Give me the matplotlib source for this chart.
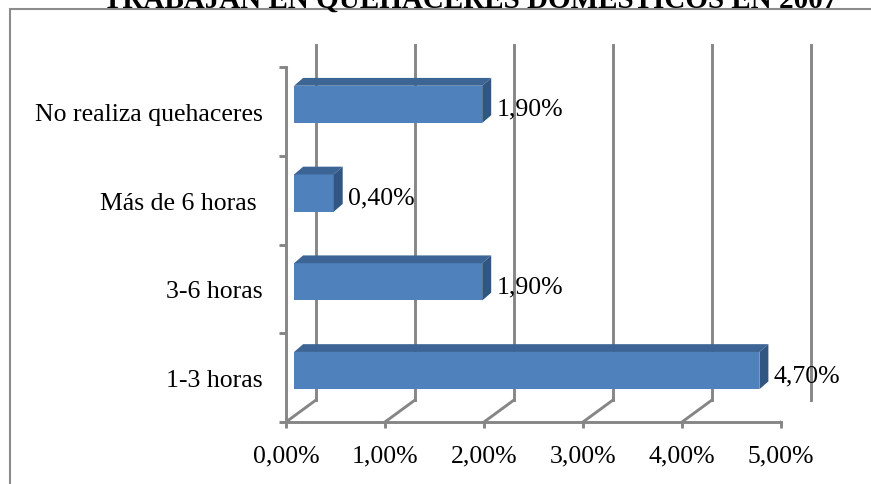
import numpy as np
import matplotlib
matplotlib.use('Agg')
import matplotlib.pyplot as plt
from matplotlib.patches import Polygon, Rectangle
from matplotlib.transforms import IdentityTransform, ScaledTranslation

plt.rcParams.update({'font.family': 'Liberation Serif', 'font.size': 18.5})

# data (bottom to top)
categories = ['1-3 horas', '3-6 horas', 'Más de 6 horas ', 'No realiza quehaceres']
values = [4.7, 1.9, 0.4, 1.9]
xticks = [0, 1, 2, 3, 4, 5]
title = 'TRABAJAN EN QUEHACERES DOMÉSTICOS EN 2007'

W, H = 871, 485
DX, DY = 30, 22          # depth of the 3D box in pixels
D1, D2 = 0.27, 0.57      # bar depth range (fraction of box depth)
BDY = 26                 # vertical shear used for the bars
BH = 0.42                # bar thickness (category units)
GRID = '#868686'
LW = 2.1
FRONT, TOP, SIDE = '#4F81BD', '#3C6595', '#325682'

fig = plt.figure(figsize=(W / 100, H / 100), dpi=100)
ax = fig.add_axes([286 / W, (H - 423) / H, (781 - 286) / W, (423 - 68) / H])
ax.set_xlim(0, 5)
ax.set_ylim(-0.5, 3.5)
ax.patch.set_visible(False)
for s in ax.spines.values():
    s.set_visible(False)

back = ax.transData + ScaledTranslation(DX / 100, DY / 100, fig.dpi_scale_trans)

# back wall gridlines
for v in xticks:
    ax.plot([v, v], [-0.5, 3.5], color=GRID, lw=LW, transform=back, clip_on=False, zorder=1)

def proj(v, c, d, dy=DY):
    x, y = ax.transData.transform((v, c))
    return (x + d * DX, y + d * dy)

# floor diagonals and walls
for v in xticks:
    p0, p1 = proj(v, -0.5, 0), proj(v, -0.5, 1)
    ax.add_line(plt.Line2D([p0[0], p1[0]], [p0[1], p1[1]], color=GRID, lw=LW,
                           transform=IdentityTransform(), zorder=1))
p0, p1 = proj(0, 3.5, 0), proj(0, 3.5, 1)
ax.add_line(plt.Line2D([p0[0], p1[0]], [p0[1], p1[1]], color=GRID, lw=LW,
                       transform=IdentityTransform(), zorder=1))
ax.plot([0, 5], [-0.5, -0.5], color=GRID, lw=LW, clip_on=False, zorder=1)
ax.plot([0, 0], [-0.5, 3.5], color=GRID, lw=LW, clip_on=False, zorder=1)

# 3D bars
for i, v in enumerate(values):
    lo, hi = i - BH / 2, i + BH / 2
    b = lambda val, c, d: proj(val, c, d, BDY)
    faces = [
        ([b(0, lo, D1), b(v, lo, D1), b(v, hi, D1), b(0, hi, D1)], FRONT),
        ([b(0, hi, D1), b(v, hi, D1), b(v, hi, D2), b(0, hi, D2)], TOP),
        ([b(v, lo, D1), b(v, lo, D2), b(v, hi, D2), b(v, hi, D1)], SIDE),
    ]
    for pts, col in faces:
        ax.add_patch(Polygon(pts, closed=True, facecolor=col, edgecolor='none',
                             transform=IdentityTransform(), zorder=3))
    lx = b(v, i, D2)[0] + 5
    ly = b(v, i, 0.1)[1]
    ax.text(lx, ly, f'{v:.2f}%'.replace('.', ','), transform=IdentityTransform(),
            ha='left', va='center', fontsize=18.5, zorder=4)

# ticks and labels
ax.set_xticks(xticks)
ax.set_xticklabels([f'{v:.2f}%'.replace('.', ',') for v in xticks])
ax.set_yticks(range(len(categories)))
ax.set_yticklabels(categories)
ax.set_yticks(np.arange(-0.5, 4, 1), minor=True)
ax.tick_params(axis='x', length=4.5, width=LW, color=GRID, pad=12)
ax.tick_params(axis='y', which='major', length=0, pad=16.5)
ax.tick_params(axis='y', which='minor', length=5, width=LW, color=GRID)

# outer frame and title (cut off at the top, as in the original)
fig.patches.append(Rectangle((10 / W, -0.1), 1.2, (H - 10) / H + 0.1, transform=fig.transFigure,
                             fill=False, edgecolor='#8C8C8C', lw=1.5))
fig.text(470 / W, (H - 8) / H, title, ha='center', va='baseline',
         fontsize=21, fontweight='bold')

fig.savefig('out.png', dpi=100)
